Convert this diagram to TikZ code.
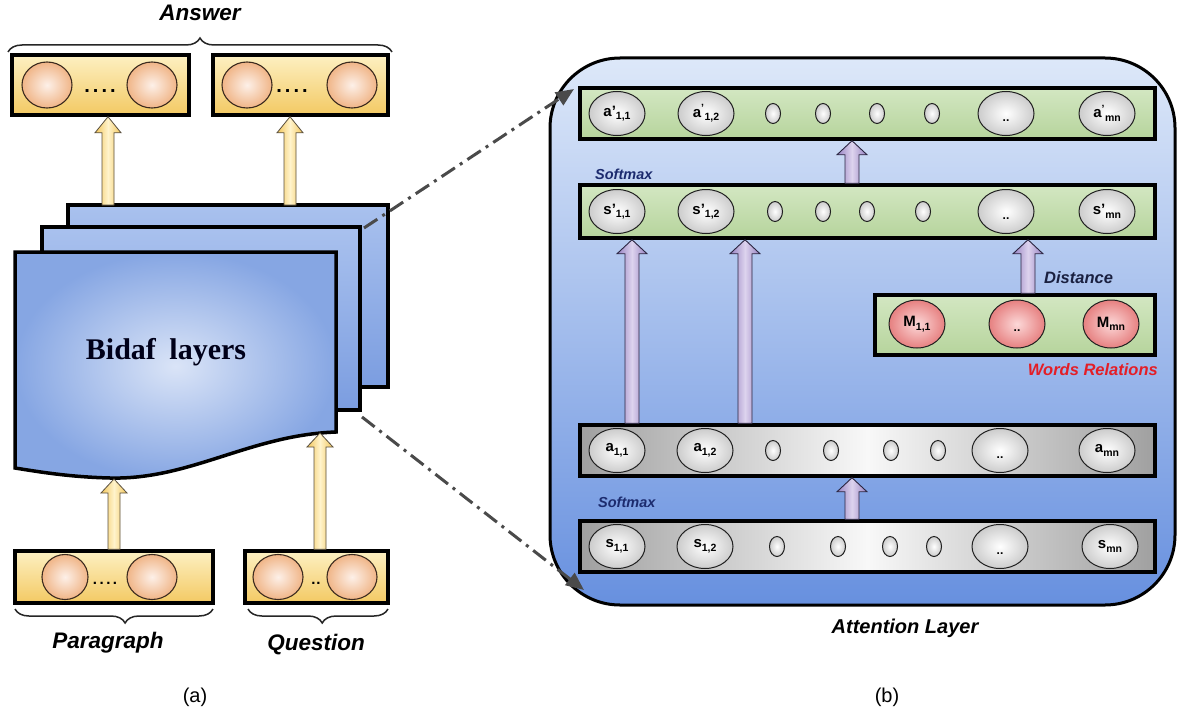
\documentclass[tikz,border=0pt]{standalone}
\usepackage{fontspec}
\setmainfont{Liberation Sans}
\newfontfamily\bidaffont{Liberation Serif}
\usetikzlibrary{shapes.geometric,decorations.pathreplacing,arrows.meta,calc}

\definecolor{yTop}{HTML}{FDF0C2}
\definecolor{yBot}{HTML}{F3C963}
\definecolor{peachIn}{HTML}{FDF0E8}
\definecolor{peachOut}{HTML}{F0B587}
\definecolor{peachLine}{HTML}{3B2A1E}
\definecolor{gEnd}{HTML}{A0A0A0}
\definecolor{gMid}{HTML}{F8F8F8}
\definecolor{grTop}{HTML}{D3E7C2}
\definecolor{grBot}{HTML}{B6D49C}
\definecolor{ballOut}{HTML}{CCCCCC}
\definecolor{ballLine}{HTML}{202020}
\definecolor{mIn}{HTML}{FCD8D8}
\definecolor{mOut}{HTML}{E68080}
\definecolor{pTop}{HTML}{DDE8F9}
\definecolor{pBot}{HTML}{6790DF}
\definecolor{backTop}{HTML}{A9C1EE}
\definecolor{backBot}{HTML}{7B9DE0}
\definecolor{frontIn}{HTML}{DAE4F7}
\definecolor{frontOut}{HTML}{86A6E3}
\definecolor{yArrEnd}{HTML}{F2C65A}
\definecolor{yArrMid}{HTML}{FFF3CC}
\definecolor{yArrLine}{HTML}{5A5040}
\definecolor{lavEnd}{HTML}{9682C2}
\definecolor{lavMid}{HTML}{DDD3EE}
\definecolor{lavLine}{HTML}{2A2540}
\definecolor{navy}{HTML}{1C2B6E}
\definecolor{darknavy}{HTML}{1A2040}
\definecolor{relred}{HTML}{E41E26}
\definecolor{dashcol}{HTML}{4A4A4A}

\newcommand{\sbs}[1]{\raisebox{-3.5pt}{\fontsize{10.5}{10.5}\selectfont #1}}

% block arrow: #1 style, #2 bottom point, #3 tip point, #4 half shaft, #5 half head, #6 head length
\newcommand{\barrow}[6]{%
  \path[#1] let \p1=(#2), \p2=(#3) in
    ({\x1-#4},{\y1}) -- ({\x1-#4},{\y2-#6}) -- ({\x1-#5},{\y2-#6}) -- ({\x1},{\y2})
    -- ({\x1+#5},{\y2-#6}) -- ({\x1+#4},{\y2-#6}) -- ({\x1+#4},{\y1}) -- cycle;
}

\begin{document}
\begin{tikzpicture}[x=1pt,y=-1pt,
  ybox/.style={draw=black, line width=3.5pt, top color=yTop, bottom color=yBot, inner sep=0pt},
  peach/.style={ellipse, draw=peachLine, line width=1.1pt, inner color=peachIn, outer color=peachOut, minimum width=50pt, minimum height=46pt, inner sep=0pt},
  grayrow/.style={draw=black, line width=3.5pt, left color=gEnd, right color=gEnd, middle color=gMid, minimum width=575pt, minimum height=51pt, inner sep=0pt},
  greenrow/.style={draw=black, line width=3.5pt, top color=grTop, bottom color=grBot, inner sep=0pt},
  ball/.style={ellipse, draw=ballLine, line width=1pt, inner color=white, outer color=ballOut, minimum width=56pt, minimum height=44pt, inner sep=0pt, font=\fontsize{15}{15}\selectfont\bfseries},
  sball/.style={ellipse, draw=ballLine, line width=1pt, inner color=white, outer color=ballOut, minimum width=15pt, minimum height=20pt, inner sep=0pt},
  mball/.style={ball, inner color=mIn, outer color=mOut, minimum height=48pt},
  dotlbl/.style={yshift=-7pt, font=\fontsize{12}{12}\selectfont\bfseries, inner sep=0pt},
  yarr/.style={draw=yArrLine, line width=0.8pt, left color=yArrEnd, right color=yArrEnd, middle color=yArrMid},
  larr/.style={draw=lavLine, line width=0.9pt, left color=lavEnd, right color=lavEnd, middle color=lavMid},
  bigital/.style={font=\fontsize{22.5}{22.5}\selectfont\bfseries\itshape},
  capt/.style={font=\fontsize{20}{20}\selectfont},
  smax/.style={font=\fontsize{14.5}{14.5}\selectfont\bfseries\itshape, text=navy, anchor=west, inner sep=0pt},
  page/.style={draw=black, line width=3.5pt, line join=miter, top color=backTop, bottom color=backBot},
  bracestyle/.style={draw=black!85, line width=1.5pt, decorate},
  dashconn/.style={draw=dashcol, line width=3pt, dash pattern=on 16pt off 6pt on 3pt off 6pt, -{Triangle[length=18pt,width=15pt]}},
  ydots/.style={font=\fontsize{20}{20}\selectfont\bfseries, inner sep=0pt}
]
\useasboundingbox[fill=white] (0,0) rectangle (1178,717);

% ================= (a) =================
% pages
\draw[page] (68,205) rectangle (388,387);
\draw[page] (42,227) rectangle (360,410);
\draw[draw=black, line width=3.5pt, line join=miter, inner color=frontIn, outer color=frontOut]
  (15,252) -- (336,252) -- (336,432) .. controls (250,435) and (190,480) .. (110,478)
  .. controls (70,477) and (40,472) .. (15,468) -- cycle;
\node[font=\fontsize{30}{30}\selectfont\bidaffont\bfseries, text=black!90!blue] (bidaf) at (166,352) {Bidaf\hspace{0.45em}layers};

% answer boxes
\node[ybox, minimum width=177pt, minimum height=60pt] (ans1) at (100.5,85) {};
\node[ybox, minimum width=175pt, minimum height=60pt] (ans2) at (300.5,85) {};
\node[peach] (ans1a) at (47,85) {};
\node[peach] (ans1b) at (152,85) {};
\node[ydots] (ans1d) at (100,91) {.\hspace{3pt}.\hspace{3pt}.\hspace{3pt}.};
\node[peach] (ans2a) at (247,85) {};
\node[peach] (ans2b) at (352,85) {};
\node[ydots] (ans2d) at (292,91) {.\hspace{3pt}.\hspace{3pt}.\hspace{3pt}.};

% input boxes
\node[ybox, minimum width=198pt, minimum height=52pt] (par) at (114,577) {};
\node[ybox, minimum width=143pt, minimum height=52pt] (que) at (316.5,577) {};
\node[peach, minimum width=46pt, minimum height=45pt] (par1) at (65,577) {};
\node[peach, minimum width=50pt, minimum height=45pt] (par2) at (152,577) {};
\node[ydots, font=\fontsize{15}{15}\selectfont\bfseries] (pard) at (105,583) {.\hspace{2.5pt}.\hspace{2.5pt}.\hspace{2.5pt}.};
\node[peach, minimum width=50pt, minimum height=45pt] (que1) at (278,577) {};
\node[peach, minimum width=50pt, minimum height=45pt] (que2) at (352,577) {};
\node[ydots, font=\fontsize{15}{15}\selectfont\bfseries] (qued) at (316,583) {.\hspace{1pt}.};

% yellow arrows
\coordinate (ya1) at (108,205);
\coordinate (ya2) at (290,205);
\coordinate (yp) at (114,479);
\coordinate (yq) at (320,433);
\barrow{yarr}{ya1}{ya1 |- ans1.south}{6pt}{13pt}{16pt}
\barrow{yarr}{ya2}{ya2 |- ans2.south}{6pt}{13pt}{16pt}
\barrow{yarr}{yp |- par.north}{yp}{6pt}{13pt}{14pt}
\barrow{yarr}{yq |- que.north}{yq}{6pt}{13pt}{14pt}

% braces and labels
\draw[bracestyle, decoration={brace, amplitude=14pt, aspect=0.5}] (8,52) -- (392,52);
\node[bigital] (answer) at (200,13) {Answer};
\draw[bracestyle, decoration={brace, amplitude=14pt, aspect=0.444}] (213,609) -- (15,609);
\draw[bracestyle, decoration={brace, amplitude=14pt, aspect=0.47}] (388,609) -- (248,609);
\node[bigital] (paragraph) at (108,643) {Paragraph};
\node[bigital] (question) at (316,645) {Question};
\node[capt] (capa) at (195,697) {(a)};

% ================= (b) =================
\node[draw=black, line width=3pt, rounded corners=70pt, top color=pTop, bottom color=pBot,
      minimum width=625pt, minimum height=547pt, inner sep=0pt] (attn) at (862.5,331.5) {};

% rows
\node[greenrow, minimum width=575pt, minimum height=51pt] (aprow) at (867.5,113.5) {};
\node[greenrow, minimum width=575pt, minimum height=53pt] (sprow) at (867.5,211.5) {};
\node[greenrow, minimum width=280pt, minimum height=60pt] (mrow) at (1015,325) {};
\node[grayrow] (arow) at (867.5,450.5) {};
\node[grayrow] (srow) at (867.5,546.5) {};

% a' row
\node[ball] (ap11) at (617,113.5) {a'\sbs{1,1}};
\node[ball] (ap12) at (706,113.5) {a\textsuperscript{'}\sbs{1,2}};
\foreach \x [count=\i] in {773,823,877,932} \node[sball] (aps\i) at (\x,113.5) {};
\node[ball, label={[dotlbl]center:..}] (apdots) at (1006,113.5) {};
\node[ball] (apmn) at (1107,113.5) {a\textsuperscript{'}\sbs{mn}};

% s' row
\node[ball] (sp11) at (617,211.5) {s'\sbs{1,1}};
\node[ball] (sp12) at (706,211.5) {s'\sbs{1,2}};
\foreach \x [count=\i] in {775,823,867,923} \node[sball] (sps\i) at (\x,211.5) {};
\node[ball, label={[dotlbl]center:..}] (spdots) at (1006,211.5) {};
\node[ball] (spmn) at (1107,211.5) {s'\sbs{mn}};

% M row
\node[mball] (m11) at (917,324) {M\sbs{1,1}};
\node[mball, label={[dotlbl]center:..}] (mdots) at (1017,324) {};
\node[mball] (mmn) at (1111,324) {M\sbs{mn}};

% a row
\node[ball] (a11) at (617,450.5) {a\sbs{1,1}};
\node[ball] (a12) at (705,450.5) {a\sbs{1,2}};
\foreach \x [count=\i] in {773,831,891,938} \node[sball] (as\i) at (\x,450.5) {};
\node[ball, label={[dotlbl]center:..}] (adots) at (1000,450.5) {};
\node[ball] (amn) at (1107,450.5) {a\sbs{mn}};

% s row
\node[ball] (s11) at (617,546.5) {s\sbs{1,1}};
\node[ball] (s12) at (705,546.5) {s\sbs{1,2}};
\foreach \x [count=\i] in {777,838,890,934} \node[sball] (ss\i) at (\x,546.5) {};
\node[ball, label={[dotlbl]center:..}] (sdots) at (1000,546.5) {};
\node[ball] (smn) at (1110,546.5) {s\sbs{mn}};

% lavender arrows
\coordinate (lx1) at (852,0);
\coordinate (lx2) at (632,0);
\coordinate (lx3) at (745,0);
\coordinate (lx4) at (1028,0);
\barrow{larr}{lx1 |- sprow.north}{lx1 |- aprow.south}{7pt}{15pt}{14pt}
\barrow{larr}{lx2 |- arow.north}{lx2 |- sprow.south}{7pt}{15pt}{14pt}
\barrow{larr}{lx3 |- arow.north}{lx3 |- sprow.south}{7pt}{15pt}{14pt}
\barrow{larr}{lx4 |- mrow.north}{lx4 |- sprow.south}{7pt}{15pt}{14pt}
\barrow{larr}{lx1 |- srow.north}{lx1 |- arow.south}{7pt}{15pt}{14pt}

% labels
\node[smax] (smax1) at (595,174) {Softmax};
\node[smax] (smax2) at (598,502) {Softmax};
\node[font=\fontsize{16.5}{16.5}\selectfont\bfseries\itshape, text=darknavy, anchor=west, inner sep=0pt] (dist) at (1044,278) {Distance};
\node[font=\fontsize{16.5}{16.5}\selectfont\bfseries\itshape, text=relred, anchor=east, inner sep=0pt] (wrel) at (1158,370) {Words Relations};
\node[font=\fontsize{20}{20}\selectfont\bfseries\itshape] (attlbl) at (905,628) {Attention Layer};
\node[capt] (capb) at (887,697) {(b)};

% dash-dot connectors
\coordinate (c1s) at (364,228);
\coordinate (c1e) at (574,89);
\coordinate (c2s) at (362,417);
\coordinate (c2e) at (584,590);
\draw[dashconn] (c1s) -- (c1e);
\draw[dashconn] (c2s) -- (c2e);
\end{tikzpicture}
\end{document}
